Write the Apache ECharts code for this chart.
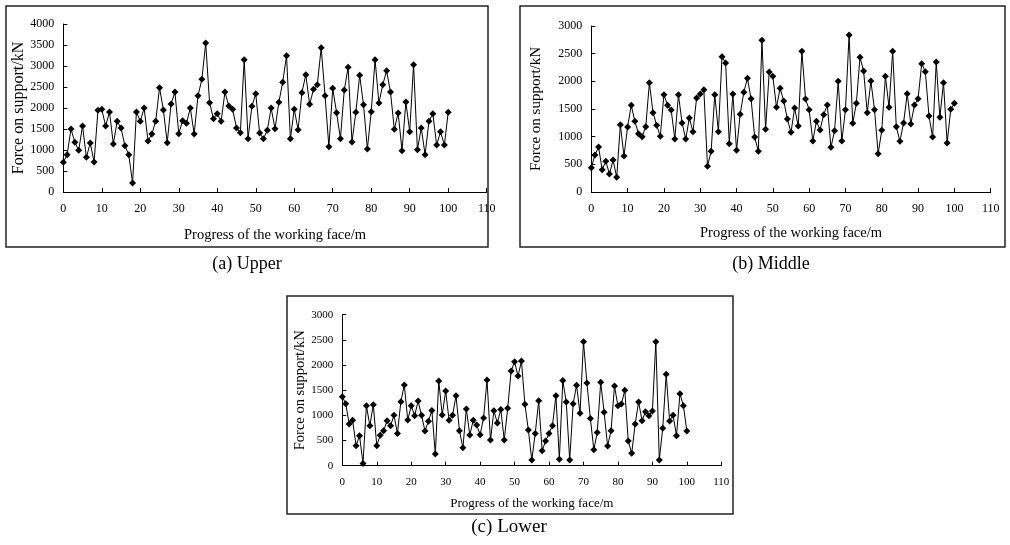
<!DOCTYPE html>
<html>
<head>
<meta charset="utf-8">
<title>Force on support</title>
<script src="https://cdn.jsdelivr.net/npm/echarts@6/dist/echarts.min.js"></script>
<style>
  html, body { margin: 0; padding: 0; background: #fff; }
  #chart { width: 1010px; height: 545px; }
</style>
</head>
<body>
<div id="chart"></div>
<script>
// progress of the working face (m)
const progress = [
  0, 1, 2, 3, 4, 5, 6, 7, 8, 9, 10, 11, 12, 13, 14, 15, 16, 17, 18, 19,
  20, 21, 22, 23, 24, 25, 26, 27, 28, 29, 30, 31, 32, 33, 34, 35, 36, 37, 38, 39,
  40, 41, 42, 43, 44, 45, 46, 47, 48, 49, 50, 51, 52, 53, 54, 55, 56, 57, 58, 59,
  60, 61, 62, 63, 64, 65, 66, 67, 68, 69, 70, 71, 72, 73, 74, 75, 76, 77, 78, 79,
  80, 81, 82, 83, 84, 85, 86, 87, 88, 89, 90, 91, 92, 93, 94, 95, 96, 97, 98, 99,
  100
];

// (a) upper supports, kN
const upperForce = [
  706, 889, 1500, 1183, 992, 1571, 825, 1167, 714, 1944,
  1968, 1571, 1905, 1143, 1683, 1524, 1103, 889, 214, 1905,
  1683, 2000, 1214, 1381, 1683, 2484, 1952, 1175, 2095, 2381,
  1389, 1698, 1635, 2000, 1381, 2294, 2683, 3548, 2127, 1746,
  1865, 1683, 2381, 2048, 1968, 1524, 1413, 3151, 1270, 2040,
  2340, 1405, 1270, 1468, 2000, 1508, 2135, 2611, 3246, 1270,
  1968, 1484, 2365, 2794, 2087, 2444, 2556, 3437, 2294, 1079,
  2468, 1889, 1270, 2429, 2968, 1190, 1897, 2778, 2079, 1024,
  1913, 3151, 2119, 2556, 2889, 2381, 1492, 1881, 984, 2143,
  1437, 3032, 1008, 1524, 889, 1683, 1865, 1119, 1437, 1119,
  1897
];

// (b) middle supports, kN
const middleForce = [
  440, 669, 813, 404, 554, 325, 578, 265, 1217, 651,
  1175, 1566, 1277, 1054, 1000, 1181, 1976, 1434, 1205, 1006,
  1759, 1566, 1482, 958, 1759, 1247, 958, 1337, 1090, 1699,
  1771, 1849, 464, 735, 1759, 1090, 2446, 2331, 873, 1771,
  753, 1404, 1801, 2054, 1687, 994, 735, 2741, 1133, 2169,
  2090, 1530, 1873, 1645, 1319, 1078, 1518, 1193, 2542, 1681,
  1488, 922, 1277, 1120, 1398, 1572, 807, 1108, 2000, 922,
  1488, 2837, 1241, 1602, 2434, 2187, 1434, 2006, 1488, 693,
  1114, 2090, 1530, 2542, 1181, 916, 1247, 1777, 1229, 1572,
  1687, 2319, 2175, 1373, 994, 2349, 1349, 1976, 886, 1494,
  1602
];

// (c) lower supports, kN
const lowerForce = [
  1371, 1232, 828, 901, 397, 596, 46, 1192, 795, 1212,
  397, 603, 695, 894, 795, 1000, 642, 1272, 1603, 907,
  1192, 993, 1285, 1000, 689, 881, 1099, 232, 1682, 1007,
  1483, 901, 1000, 1391, 695, 358, 1126, 609, 901, 808,
  616, 947, 1702, 510, 1093, 848, 1119, 510, 1139, 1881,
  2066, 1781, 2079, 1219, 709, 113, 642, 1291, 298, 490,
  642, 795, 1391, 126, 1695, 1265, 113, 1232, 1596, 1040,
  2464, 1642, 940, 318, 662, 1656, 1060, 391, 695, 1583,
  1192, 1225, 1497, 490, 245, 828, 1265, 894, 1073, 993,
  1086, 2464, 113, 742, 1815, 887, 1000, 596, 1430, 1192,
  689
];

const captions = ['(a) Upper', '(b) Middle', '(c) Lower'];
const xAxisName = 'Progress of the working face/m';
const yAxisName = 'Force on support/kN';
const yMaxes = [4000, 3000, 3000];

const FONT = '"Liberation Serif", "Times New Roman", serif';

// panel layout: frame box, plot grid, font sizes
const panels = [
  { box: [6, 6, 482, 241], grid: [63.3, 24, 423.4, 168], tick: 12, xName: 14.5, yName: 16, xGap: 36, yGap: 33, cap: [247, 264], capSize: 18 },
  { box: [520, 6, 485, 241], grid: [591.3, 26, 399.4, 166], tick: 12, xName: 14.5, yName: 15, xGap: 34, yGap: 48, cap: [771, 264], capSize: 18 },
  { box: [287, 296, 446, 218], grid: [342.3, 314.7, 379, 151], tick: 11, xName: 13, yName: 14.5, xGap: 31, yGap: 34, cap: [509, 527], capSize: 19 }
];

document.addEventListener('DOMContentLoaded', function() {
  const chart = echarts.init(document.getElementById('chart'), null, { renderer: 'canvas' });
  chart.setOption(buildOption());
});

/**
 * Build the full option with three panels
 */
function buildOption() {
  const seriesData = [upperForce, middleForce, lowerForce];
  const grid = [];
  const xAxis = [];
  const yAxis = [];
  const series = [];
  const graphic = [];

  panels.forEach((p, i) => {
    grid.push({ left: p.grid[0], top: p.grid[1], width: p.grid[2], height: p.grid[3] });

    xAxis.push({
      gridIndex: i,
      type: 'value',
      min: 0,
      max: 110,
      interval: 10,
      name: xAxisName,
      nameLocation: 'middle',
      nameGap: p.xGap,
      nameTextStyle: { fontFamily: FONT, fontSize: p.xName, color: '#000' },
      axisLine: { onZero: false, lineStyle: { color: '#000', width: 1 } },
      axisTick: { inside: true, length: 4, lineStyle: { color: '#000' } },
      axisLabel: { fontFamily: FONT, fontSize: p.tick, color: '#000', margin: 11 },
      splitLine: { show: false }
    });

    yAxis.push({
      gridIndex: i,
      type: 'value',
      min: 0,
      max: yMaxes[i],
      interval: 500,
      name: yAxisName,
      nameLocation: 'middle',
      nameGap: p.yGap,
      nameTextStyle: { fontFamily: FONT, fontSize: p.yName, color: '#000' },
      axisLine: { show: true, lineStyle: { color: '#000', width: 1 } },
      axisTick: { show: true, inside: true, length: 4, lineStyle: { color: '#000' } },
      axisLabel: {
        fontFamily: FONT,
        fontSize: p.tick,
        color: '#000',
        margin: 9,
        formatter: value => String(value)
      },
      splitLine: { show: false }
    });

    series.push({
      type: 'line',
      xAxisIndex: i,
      yAxisIndex: i,
      data: progress.map((x, k) => [x, seriesData[i][k]]),
      symbol: 'diamond',
      symbolSize: 7,
      showAllSymbol: true,
      lineStyle: { color: '#000', width: 1 },
      itemStyle: { color: '#000' },
      animation: false
    });

    // frame around each panel
    graphic.push({
      type: 'rect',
      shape: { x: p.box[0], y: p.box[1], width: p.box[2], height: p.box[3] },
      style: { fill: 'none', stroke: '#222', lineWidth: 1.5 },
      silent: true
    });

    // caption under each panel
    graphic.push({
      type: 'text',
      x: p.cap[0],
      y: p.cap[1],
      style: {
        text: captions[i],
        fontFamily: FONT,
        fontSize: p.capSize,
        fill: '#000',
        align: 'center',
        verticalAlign: 'middle'
      },
      silent: true
    });
  });

  return {
    backgroundColor: '#fff',
    animation: false,
    grid: grid,
    xAxis: xAxis,
    yAxis: yAxis,
    series: series,
    graphic: graphic
  };
}
</script>
</body>
</html>
